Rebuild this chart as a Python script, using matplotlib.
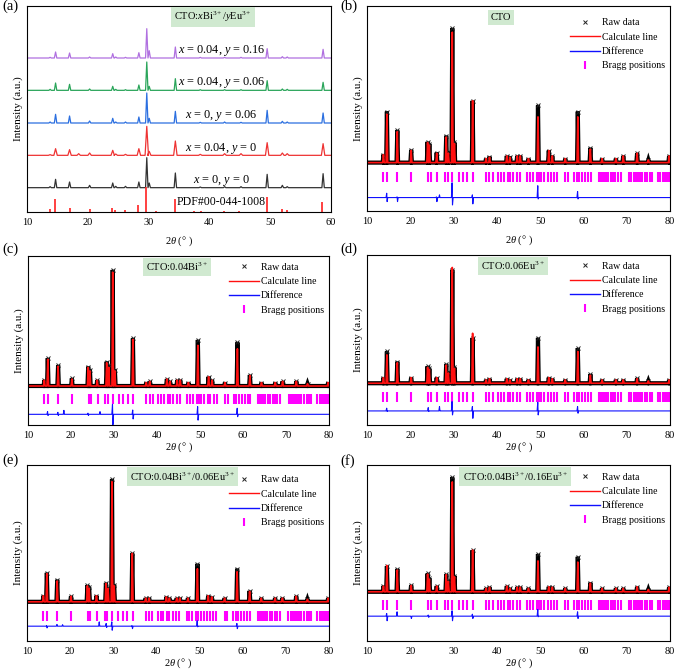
import matplotlib
matplotlib.use('Agg')
import matplotlib.pyplot as plt
from matplotlib.lines import Line2D

plt.rcParams['font.family'] = ['Liberation Serif', 'DejaVu Serif']
plt.rcParams['mathtext.fontset'] = 'custom'
plt.rcParams['mathtext.rm'] = 'Liberation Serif'
plt.rcParams['mathtext.it'] = 'Liberation Serif:italic'
plt.rcParams['font.size'] = 7

# ---------------- panel (a): stacked XRD patterns ----------------
a_pos = [13.8, 14.7, 17.0, 18.5, 20.3, 24.1, 24.6, 26.2, 28.4, 29.7, 30.1,
         34.4, 38.5, 42.5, 45.2, 49.5, 52.0, 52.8, 58.7]
a_black = [3, 25, 17, 0, 7, 14, 4, 4, 17, 90, 14, 44, 2, 3, 3, 40, 7, 3, 42]
a_red = [2, 20, 17, 5, 7, 15, 4, 3, 20, 87, 12, 43, 3, 5, 5, 38, 7, 5, 35]
a_blue = [3, 26, 21, 0, 6, 14, 3, 3, 18, 90, 14, 35, 2, 3, 2, 38, 5, 3, 30]
a_green = [3, 22, 18, 0, 4, 12, 3, 2, 16, 85, 12, 35, 2, 2, 2, 29, 4, 3, 24]
a_purple = [2, 18, 15, 0, 3, 13, 3, 2, 16, 88, 22, 33, 2, 2, 2, 28, 4, 3, 26]
a_offsets = [73, 170, 267, 365, 462]
a_labels = [r'$x$ = 0, $y$ = 0', r'$x$ = 0.04, $y$ = 0', r'$x$ = 0, $y$ = 0.06',
            r'$x$ = 0.04, $y$ = 0.06', r'$x$ = 0.04, $y$ = 0.16']
a_colors = ['#333333', '#ee3333', '#2b6fe0', '#2aa55a', '#b070e0']

pdf_pos = [13.8, 14.6, 17.0, 20.3, 24.0, 24.5, 26.2, 28.3, 29.6, 31.2, 34.3,
           37.5, 38.6, 42.4, 44.8, 49.4, 52.0, 52.8, 58.6]
pdf_h = [10, 40, 13, 8, 13, 6, 7, 20, 75, 3, 38, 3, 4, 4, 3, 45, 10, 5, 30]

# ---------------- panels (b)-(f): Rietveld refinements ----------------
r_pos = [13.8, 14.6, 17.0, 20.2, 24.0, 24.4, 26.1, 28.3, 28.8, 29.7, 30.2,
         34.4, 37.5, 38.3, 42.3, 43.0, 44.7, 45.4, 47.3, 49.5, 52.0, 52.8,
         55.8, 58.7, 61.6, 64.3, 67.5, 69.2, 72.4, 75.0, 79.8]
raw_b = [6, 38, 24, 9.5, 15.5, 14, 7.5, 20, 8, 100, 15, 46, 3, 4.5, 5, 4.5,
         5, 5, 3, 42.5, 9, 5, 3, 38, 11, 3, 3, 5, 7, 2, 5]
calc_b = [6, 36, 23, 9, 15, 13, 7, 19, 7, 97, 14, 46, 3, 4, 5, 4, 5, 5, 3,
          34, 9, 5, 3, 34, 10, 3, 3, 5, 7, 2, 5]
raw_c = [5, 24, 18, 6.6, 16.7, 14, 5, 21, 18, 100, 14, 41, 3, 4, 6, 4, 5, 5,
         3, 39.7, 8, 5, 3, 37.6, 9.5, 3, 3, 4, 4, 2, 3]
calc_c = [5, 23, 17, 6, 16, 13, 5, 20, 16, 98, 13, 40, 3, 4, 6, 4, 5, 5, 3,
          35, 8, 5, 3, 32, 9, 3, 3, 4, 4, 2, 3]
raw_d = [5, 28, 19, 5, 15, 13, 5, 17, 10, 100, 14, 40, 3, 4, 4, 3, 4, 4, 3,
         40, 5, 4, 3, 31, 8, 3, 3, 3, 4.4, 2, 3]
calc_d = [5, 25, 18, 5, 14, 12, 5, 16, 9, 102, 13, 44, 3, 4, 4, 3, 4, 4, 3,
          32, 5, 4, 3, 28, 7, 3, 3, 3, 4, 2, 3]
raw_e = [5, 23.7, 18, 4.6, 13.6, 12, 5, 15.5, 12, 100, 14, 39.5, 3, 3, 4, 3,
         3, 3, 3, 31, 5, 4, 3, 27, 9, 3, 3, 3, 4.6, 2, 3]
calc_e = [5, 23, 17, 4.5, 13, 11, 5, 15, 11, 98, 13, 39.5, 3, 3, 4, 3, 3, 3,
          3, 27, 5, 4, 3, 24.5, 8.5, 3, 3, 3, 4.5, 2, 3]
raw_f = [5, 22.4, 20, 5.8, 16, 12, 5, 15.5, 10, 100, 14, 36.4, 3, 4, 5, 3, 4,
         4, 3, 33, 4.4, 4, 3, 30.6, 8, 3, 3, 3, 4.4, 2, 4]
calc_f = [5, 23, 19, 5.5, 15.5, 11, 5, 15, 9, 96, 13, 36.4, 3, 4, 5, 3, 4, 4,
          3, 27, 4.4, 4, 3, 26, 7.5, 3, 3, 3, 4.4, 2, 4]

diff_b_pos = [14.6, 17.0, 26.1, 26.8, 29.7, 34.4, 49.5, 58.7]
diff_b_up = [3.2, 0.5, 0.5, 2, 11, 2, 8.8, 4.5]
diff_b_dn = [3, 3, 3, 0, 5.5, 4.7, 1, 1]
diff_c_pos = [14.6, 17.0, 18.4, 24.0, 26.8, 29.7, 34.4, 49.5, 58.7]
diff_c_up = [2.3, 1.7, 3.4, 1, 2.3, 8.6, 3.7, 6.6, 5.2]
diff_c_dn = [1, 1, 0, 1, 0, 9, 4, 5, 2]
diff_d_pos = [14.6, 24.2, 26.8, 29.7, 34.4, 49.5, 58.7]
diff_d_up = [2.4, 2.9, 3.8, 8.2, 3.8, 7.6, 3.8]
diff_d_dn = [0.5, 0.5, 0, 3.5, 6.5, 3.5, 2]
diff_e_pos = [14.6, 17.0, 18.3, 26.8, 28.4, 29.7, 34.4, 49.5, 58.7]
diff_e_up = [0.5, 1.4, 1.2, 3.5, 2.2, 3.5, 0.5, 4.4, 2.2]
diff_e_dn = [1.4, 0, 0, 0, 1, 3.3, 2, 0.5, 2]
diff_f_pos = [14.6, 17.0, 20.2, 24.2, 29.7, 34.4, 49.5, 58.7]
diff_f_up = [2.3, 3.8, 0, 1, 4.7, 1.7, 5.8, 3.8]
diff_f_dn = [4, 0, 2, 1, 4, 2, 0.5, 2]

bragg = [13.8, 14.6, 17.0, 20.2, 24.1, 24.7, 26.2, 28.0, 28.6, 29.7, 31.2,
         32.2, 33.2, 34.5, 37.5, 38.3, 39.0, 40.3, 41.0, 41.6, 42.5, 43.0,
         43.8, 44.6, 45.3, 47.0, 47.6, 48.3, 49.2, 49.7, 50.3, 51.0, 51.8,
         52.4, 53.2, 53.9, 55.8, 56.4, 57.8, 58.4, 59.0, 59.7, 60.4, 61.1,
         61.7, 63.5, 63.9, 64.3, 64.7, 65.2, 65.7, 66.3, 66.9, 67.4, 68.0,
         68.6, 70.6, 71.1, 71.6, 72.1, 72.6, 73.1, 73.6, 74.2, 74.8, 75.4,
         75.9, 77.3, 77.8, 78.3, 78.8, 79.3, 79.8]


def profile(pos, hts, w, base, x0, x1):
    xs, ys = [x0], [base]
    for p, h in zip(pos, hts):
        xs += [p - w, p, p + w]
        ys += [base, base + h, base]
    xs.append(x1)
    ys.append(base)
    return xs, ys


def diff_line(pos, up, dn, base):
    xs, ys = [10], [base]
    for p, u, d in zip(pos, up, dn):
        xs += [p - 0.2, p - 0.05, p + 0.05, p + 0.2]
        ys += [base, base + u, base - d, base]
    xs.append(80)
    ys.append(base)
    return xs, ys


fig = plt.figure(figsize=(6.76, 6.69), dpi=100)
W, H = 676, 669


def add_ax(l, r, t, b):
    return fig.add_axes([l / W, (H - b) / H, (r - l) / W, (b - t) / H])


box = dict(boxstyle='square,pad=0.3', fc='#d0e9d0', ec='none')


def style(ax, xmax, labelpad):
    ax.set_xlim(10, xmax)
    ax.set_xticks(range(10, xmax + 1, 10))
    ax.set_yticks([])
    ax.tick_params(axis='x', length=0, pad=4.5, labelsize=7.5)
    ax.set_xlabel(r'$2\theta$ (° )', fontsize=7.5, labelpad=labelpad)
    ax.set_ylabel('Intensity (a.u.)', fontsize=8, labelpad=3)
    for s in ax.spines.values():
        s.set_linewidth(0.8)


# panel (a)
ax = add_ax(27, 331, 6, 212)
series = [a_black, a_red, a_blue, a_green, a_purple]
for i, (hts, off, lab, col) in enumerate(zip(series, a_offsets, a_labels, a_colors)):
    w = 0.28 if i == 1 else 0.2
    xs, ys = profile(a_pos, hts, w, off, 10, 60)
    ax.plot(xs, ys, color=col, lw=0.9)
    ax.text(42, off + 22, lab, ha='center', va='center', fontsize=8.8)
ax.vlines(pdf_pos, 0, pdf_h, color='#ff2020', lw=1.2)
ax.text(42, 30, 'PDF#00-044-1008', ha='center', va='center', fontsize=8.5)
ax.text(40.6, 585, r'CTO:$x$Bi$^{3+}$/$y$Eu$^{3+}$', ha='center', va='center',
        fontsize=7.5, bbox=box)
ax.set_ylim(0, 618)
style(ax, 60, 5)

# panels (b)-(f)
panels = [
    ('b', (367, 670, 6, 211), raw_b, calc_b, (diff_b_pos, diff_b_up, diff_b_dn),
     (-36, 116.5, -10.5, -26), 'CTO', 41, 5, 0.965),
    ('c', (28, 329, 256, 425), raw_c, calc_c, (diff_c_pos, diff_c_up, diff_c_dn),
     (-33.6, 112, -11.2, -24.4), r'CTO:0.04Bi$^{3+}$', 44.6, 0, 0.99),
    ('d', (367, 670, 255, 425), raw_d, calc_d, (diff_d_pos, diff_d_up, diff_d_dn),
     (-36.8, 113, -12.4, -24.4), r'CTO:0.06Eu$^{3+}$', 43.7, 0, 0.99),
    ('e', (27, 329, 465, 641), raw_e, calc_e, (diff_e_pos, diff_e_up, diff_e_dn),
     (-32, 111.7, -11.4, -19.9), r'CTO:0.04Bi$^{3+}$/0.06Eu$^{3+}$', 46, 0, 0.97),
    ('f', (367, 670, 465, 641), raw_f, calc_f, (diff_f_pos, diff_f_up, diff_f_dn),
     (-43, 110.8, -11.7, -21.3), r'CTO:0.04Bi$^{3+}$/0.16Eu$^{3+}$', 44.2, 0, 0.985),
]

for key, rect, raw, calc, dif, lims, title, tx, lpad, ly in panels:
    ax = add_ax(*rect)
    ymin, ymax, yb, yd = lims
    xs, ys = profile(r_pos, raw, 0.18, 0, 10, 80)
    ax.plot(xs, ys, color='black', lw=3.0, solid_joinstyle='miter')
    ax.plot(r_pos, raw, ls='none', marker='x', ms=3.5, mew=0.7, color='#222222')
    xs, ys = profile(r_pos, calc, 0.18, 0, 10, 80)
    ax.plot(xs, ys, color='#ff1010', lw=1.2)
    ax.plot(bragg, [yb] * len(bragg), ls='none', marker='|', ms=6.5, mew=1.5,
            color='#ff00ff')
    xs, ys = diff_line(*dif, yd)
    ax.plot(xs, ys, color='#1010ff', lw=0.8)
    ax.set_ylim(ymin, ymax)
    tyy = ymax - (ymax - ymin) * (0.055 if key == 'b' else 0.065)
    ax.text(tx, tyy, title, ha='center', va='center', fontsize=7.5, bbox=box)
    handles = [
        Line2D([], [], ls='none', marker='x', ms=3.5, mew=0.7, color='#222222'),
        Line2D([], [], color='#ff1010', lw=1.0),
        Line2D([], [], color='#1010ff', lw=1.0),
        Line2D([], [], ls='none', marker='|', ms=6, mew=1.5, color='#ff00ff'),
    ]
    ax.legend(handles, ['Raw data', 'Calculate line', 'Difference', 'Bragg positions'],
              loc='upper right', bbox_to_anchor=(1.0, ly), borderaxespad=0.1,
              frameon=False, fontsize=7.1, handlelength=3.0, handletextpad=0.2,
              labelspacing=0.55)
    style(ax, 80, lpad)

letters = [('(a)', 2, 0), ('(b)', 340, 0), ('(c)', 2, 243), ('(d)', 340, 243),
           ('(e)', 2, 454), ('(f)', 340, 454)]
for txt, x, y in letters:
    fig.text(x / W, 1 - y / H, txt, ha='left', va='top', fontsize=10.5)

fig.savefig('out.png', dpi=100)
